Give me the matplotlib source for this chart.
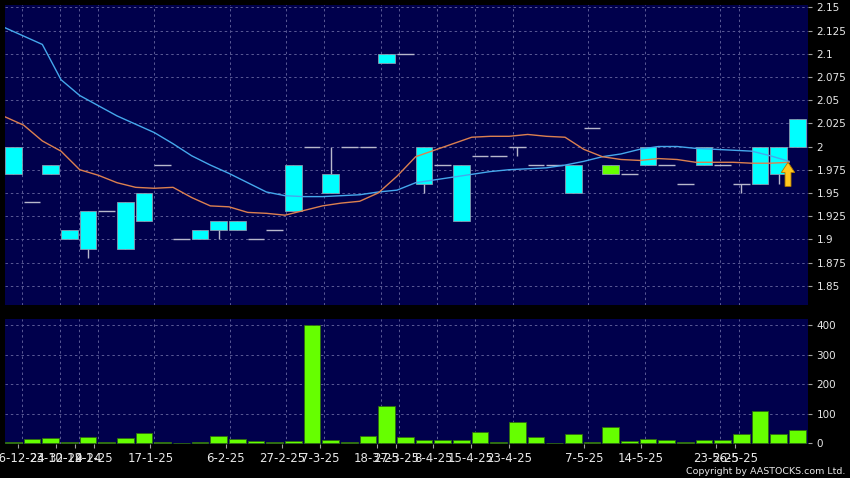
import numpy as np
import matplotlib.pyplot as plt

# daily candles (price)
opens = [2.00, 1.94, 1.98, 1.91, 1.93, 1.93, 1.94, 1.95, 1.98, 1.90, 1.91, 1.92, 1.92, 1.90, 1.91,
         1.98, 2.00, 1.97, 2.00, 2.00, 2.10, 2.10, 2.00, 1.98, 1.98, 1.99, 1.99, 2.00, 1.98, 1.98,
         1.98, 2.02, 1.97, 1.97, 2.00, 1.98, 1.96, 2.00, 1.98, 1.96, 2.00, 2.00, 2.00]
closes = [1.97, 1.94, 1.97, 1.90, 1.89, 1.93, 1.89, 1.92, 1.98, 1.90, 1.90, 1.91, 1.91, 1.90, 1.91,
          1.93, 2.00, 1.95, 2.00, 2.00, 2.09, 2.10, 1.96, 1.98, 1.92, 1.99, 1.99, 2.00, 1.98, 1.98,
          1.95, 2.02, 1.98, 1.97, 1.98, 1.98, 1.96, 1.98, 1.98, 1.96, 1.96, 1.97, 2.03]
highs = [2.00, 1.94, 1.98, 1.91, 1.93, 1.93, 1.94, 1.95, 1.98, 1.90, 1.91, 1.92, 1.92, 1.90, 1.91,
         1.98, 2.00, 2.00, 2.00, 2.00, 2.10, 2.10, 2.00, 1.98, 1.98, 1.99, 1.99, 2.00, 1.98, 1.98,
         1.98, 2.02, 1.98, 1.97, 2.00, 1.98, 1.96, 2.00, 1.98, 1.96, 2.00, 2.00, 2.03]
lows = [1.97, 1.94, 1.97, 1.90, 1.88, 1.93, 1.89, 1.92, 1.98, 1.90, 1.90, 1.90, 1.91, 1.90, 1.91,
        1.93, 2.00, 1.95, 2.00, 2.00, 2.09, 2.10, 1.95, 1.98, 1.92, 1.99, 1.99, 1.99, 1.98, 1.98,
        1.95, 2.02, 1.97, 1.97, 1.98, 1.98, 1.96, 1.98, 1.98, 1.95, 1.96, 1.96, 2.00]
green_days = [32]

# moving averages
ma_slow = [2.128, 2.119, 2.110, 2.072, 2.055, 2.044, 2.033, 2.024, 2.015, 2.003, 1.990, 1.980,
           1.971, 1.961, 1.951, 1.947, 1.946, 1.946, 1.947, 1.948, 1.951, 1.953, 1.961, 1.964,
           1.967, 1.970, 1.973, 1.975, 1.976, 1.977, 1.980, 1.984, 1.989, 1.992, 1.997, 2.000,
           2.000, 1.998, 1.997, 1.996, 1.995, 1.990, 1.984]
ma_fast = [2.032, 2.023, 2.006, 1.995, 1.975, 1.969, 1.961, 1.956, 1.955, 1.956, 1.945, 1.936,
           1.935, 1.929, 1.928, 1.926, 1.931, 1.936, 1.939, 1.941, 1.950, 1.968, 1.989, 1.996,
           2.003, 2.010, 2.011, 2.011, 2.013, 2.011, 2.010, 1.997, 1.989, 1.986, 1.985, 1.987,
           1.986, 1.983, 1.983, 1.983, 1.982, 1.982, 1.983]

volume = [3, 16, 18, 3, 22, 6, 19, 36, 4, 1, 5, 25, 16, 9, 4, 7, 400, 11, 4, 25, 125, 20, 12, 10,
          11, 39, 3, 72, 20, 1, 32, 3, 55, 7, 16, 10, 4, 10, 10, 32, 109, 30, 45]

tick_days = [0, 2, 3, 4, 7, 11, 14, 16, 19, 20, 22, 24, 26, 30, 33, 37, 38]
tick_labels = ["16-12-24", "23-12-24", "30-12-24", "9-1-25", "17-1-25", "6-2-25", "27-2-25",
               "7-3-25", "18-3-25", "27-3-25", "8-4-25", "15-4-25", "23-4-25", "7-5-25",
               "14-5-25", "23-5-25", "26-5-25"]

NAVY = "#00004c"
GRID = "#5a5a96"
TXT = "#e8e8e8"
CYAN = "#00ffff"
LIME = "#66ff00"

o = np.array(opens)
c = np.array(closes)
n = len(o)
x = np.arange(n)
w = 0.89

fig = plt.figure(figsize=(8.5, 4.78), dpi=100, facecolor="black")
ax = fig.add_axes([5 / 850, 1 - 305 / 478, 803 / 850, 300 / 478], facecolor=NAVY)
axv = fig.add_axes([5 / 850, 1 - 444 / 478, 803 / 850, 125 / 478], facecolor=NAVY)

xlim = (-0.445, 42.57)
tick_x = np.array(tick_days) * 1.0107 + 0.27
dash = (0, (2.5, 3))

# price panel
for yy in np.arange(1.85, 2.151, 0.025):
    ax.axhline(yy, color=GRID, lw=0.7, ls=dash, zorder=0)
for tx in tick_x:
    ax.axvline(tx + 0.2, color=GRID, lw=0.7, ls=dash, zorder=0)
    axv.axvline(tx + 0.2, color=GRID, lw=0.7, ls=dash, zorder=0)

ax.vlines(x, lows, highs, color="#b8b8cc", lw=1, zorder=2)
body_lo = np.minimum(o, c)
body_h = np.abs(c - o)
full = body_h > 0
colors = [LIME if i in green_days else CYAN for i in range(n)]
ax.bar(x[full], body_h[full], bottom=body_lo[full], width=w,
       color=[colors[i] for i in x[full]], edgecolor="#8a9ab0", lw=0.6, zorder=3)
doji = ~full
ax.hlines(o[doji], x[doji] - w / 2, x[doji] + w / 2, color="#b8b8cc", lw=1, zorder=3)

ax.plot(x - 0.445, ma_slow, color="#45a8ec", lw=1, zorder=4)
ax.plot(x - 0.445, ma_fast, color="#dc8050", lw=1, zorder=4)

# last-price arrow
ax.arrow(n - 1.5, ma_fast[-1] - 0.026, 0, 0.026, width=0.32, head_width=0.72,
         head_length=0.011, length_includes_head=True, facecolor="#ffc81e",
         edgecolor="#b07800", lw=0.6, zorder=5)

ax.set_xlim(*xlim)
ax.set_ylim(1.8292, 2.1525)
ax.yaxis.tick_right()
ax.set_yticks(np.arange(1.85, 2.151, 0.025))
ax.set_yticklabels(["{:g}".format(round(v, 3)) for v in np.arange(1.85, 2.151, 0.025)])
ax.set_xticks([])
ax.tick_params(axis="y", colors="#a0a0a0", labelcolor=TXT, length=3, width=0.8,
               pad=3, labelsize=7.5)

# volume panel
for yy in [100, 200, 300, 400]:
    axv.axhline(yy, color=GRID, lw=0.7, ls=dash, zorder=0)
axv.bar(x, volume, width=w, color=LIME, edgecolor="#2f6a10", lw=0.6, zorder=3)
axv.set_xlim(*xlim)
axv.set_ylim(-2.4, 420)
axv.yaxis.tick_right()
axv.set_yticks([0, 100, 200, 300, 400])
axv.set_xticks(tick_x)
axv.set_xticklabels(tick_labels)
axv.tick_params(axis="y", colors="#a0a0a0", labelcolor=TXT, length=3, width=0.8,
                pad=3, labelsize=7.5)
axv.tick_params(axis="x", colors="#a0a0a0", labelcolor=TXT, length=3, width=0.8,
                pad=3, labelsize=8.5)

for a in (ax, axv):
    for s in a.spines.values():
        s.set_visible(False)

fig.text(845 / 850, 1 - 471 / 478, "Copyright by AASTOCKS.com Ltd.", color=TXT,
         fontsize=6.8, ha="right", va="center")

fig.savefig("out.png", dpi=100, facecolor="black")
